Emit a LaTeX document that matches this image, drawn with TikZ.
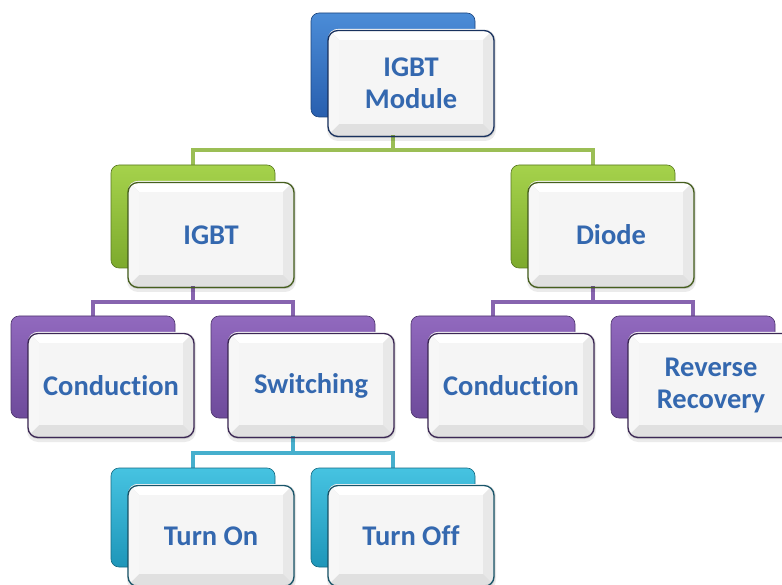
\documentclass[tikz,border=0pt]{standalone}
\usepackage{fontspec}
\setmainfont{Carlito}
\newfontfamily\lblfont{Carlito}[Ligatures=NoCommon]
\usetikzlibrary{backgrounds}
\definecolor{txtblue}{RGB}{52,104,175}
\definecolor{bluelt}{RGB}{75,140,215}\definecolor{bluemd}{RGB}{40,95,175}\definecolor{bluedk}{RGB}{25,50,95}
\definecolor{grnlt}{RGB}{165,210,75}\definecolor{grnmd}{RGB}{125,170,45}\definecolor{grndk}{RGB}{70,95,30}
\definecolor{purlt}{RGB}{145,105,190}\definecolor{purmd}{RGB}{110,75,155}\definecolor{purdk}{RGB}{60,40,85}
\definecolor{cyalt}{RGB}{70,195,225}\definecolor{cyamd}{RGB}{30,150,185}\definecolor{cyadk}{RGB}{25,85,105}
\definecolor{lnGreen}{RGB}{155,190,85}
\definecolor{lnPurple}{RGB}{135,100,175}
\definecolor{lnCyan}{RGB}{70,175,205}
\tikzset{
  backbox/.style={rectangle, rounded corners=8pt, inner sep=0pt, line width=0.6pt},
  frontbox/.style={rectangle, rounded corners=10pt, inner sep=0pt, line width=1.3pt,
     align=center, text=txtblue, font=\lblfont\bfseries\fontsize{28.5}{32}\selectfont},
  conn/.style={line width=3.8pt},
}
% #1 name, #2 x, #3 y (back box top-left), #4 height, #5 light, #6 mid, #7 dark, #8 text
\newcommand\smartnode[8]{%
  \pgfmathsetmacro\smBx{#2+82}\pgfmathsetmacro\smBy{#3+#4/2}%
  \pgfmathsetmacro\smXa{#2+17}\pgfmathsetmacro\smYa{#3+16}%
  \pgfmathsetmacro\smXb{\smXa+166}\pgfmathsetmacro\smYb{\smYa+#4+2}%
  \pgfmathsetmacro\smFx{(\smXa+\smXb)/2}\pgfmathsetmacro\smFy{(\smYa+\smYb)/2+1.5}%
  \pgfmathsetmacro\smFh{#4+2}%
  \node[backbox, top color=#5, bottom color=#6, draw=#6!70!black,
        minimum width=164pt, minimum height=#4 pt] (#1b) at (\smBx,\smBy) {};
  \fill[black, opacity=0.08, rounded corners=11pt] (\smXa-1,\smYa+1) rectangle (\smXb+2,\smYb+6);
  \fill[black, opacity=0.12, rounded corners=10pt] (\smXa,\smYa+1) rectangle (\smXb+1,\smYb+3);
  \begin{scope}
    \clip[rounded corners=10pt] (\smXa,\smYa) rectangle (\smXb,\smYb);
    \fill[black!12!white] (\smXa,\smYa) rectangle (\smXb,\smYb);
    \fill[white] (\smXa,\smYa) -- (\smXb,\smYa) -- (\smXb-11,\smYa+11) -- (\smXa+11,\smYa+11) -- cycle;
    \fill[black!3!white] (\smXa,\smYa) -- (\smXa+11,\smYa+11) -- (\smXa+11,\smYb-11) -- (\smXa,\smYb) -- cycle;
    \fill[black!9!white] (\smXb,\smYa) -- (\smXb,\smYb) -- (\smXb-11,\smYb-11) -- (\smXb-11,\smYa+11) -- cycle;
    \fill[#5!6!black!4!white] (\smXa+11,\smYa+11) rectangle (\smXb-11,\smYb-11);
  \end{scope}
  \node[frontbox, draw=#7, minimum width=166pt, minimum height=\smFh pt] (#1f) at (\smFx,\smFy) {#8};
}
\begin{document}
\begin{tikzpicture}[x=1pt,y=-1pt]
\useasboundingbox (0,0) rectangle (782,585);
\smartnode{top}{311}{13}{104}{bluelt}{bluemd}{bluedk}{IGBT\\Module}
\smartnode{igbt}{111}{165}{103}{grnlt}{grnmd}{grndk}{IGBT}
\smartnode{diode}{511}{165}{103}{grnlt}{grnmd}{grndk}{Diode}
\smartnode{condA}{11}{316}{102}{purlt}{purmd}{purdk}{Conduction}
\smartnode{sw}{211}{316}{102}{purlt}{purmd}{purdk}{Switching}
\smartnode{condB}{411}{316}{102}{purlt}{purmd}{purdk}{Conduction}
\smartnode{rr}{611}{316}{102}{purlt}{purmd}{purdk}{Reverse\\Recovery}
\smartnode{ton}{111}{468}{99}{cyalt}{cyamd}{cyadk}{Turn On}
\smartnode{toff}{311}{468}{99}{cyalt}{cyamd}{cyadk}{Turn Off}
\coordinate (busA) at (0,150);
\coordinate (busB) at (0,302);
\coordinate (busC) at (0,453);
\begin{scope}[on background layer]
  \draw[conn, lnGreen] (topb.center) -- (topb.center |- busA);
  \draw[conn, lnGreen] (igbtb.north) |- (topb.center |- busA) -| (diodeb.north);
  \draw[conn, lnPurple] (igbtb.center) -- (igbtb.center |- busB);
  \draw[conn, lnPurple] (condAb.north) |- (igbtb.center |- busB) -| (swb.north);
  \draw[conn, lnPurple] (diodeb.center) -- (diodeb.center |- busB);
  \draw[conn, lnPurple] (condBb.north) |- (diodeb.center |- busB) -| (rrb.north);
  \draw[conn, lnCyan] (swb.center) -- (swb.center |- busC);
  \draw[conn, lnCyan] (tonb.north) |- (swb.center |- busC) -| (toffb.north);
\end{scope}
\end{tikzpicture}
\end{document}
